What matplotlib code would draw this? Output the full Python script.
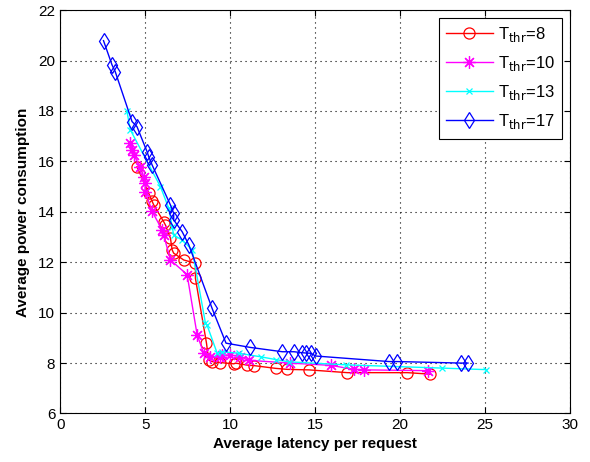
import matplotlib
matplotlib.use("Agg")
import matplotlib.pyplot as plt

plt.rcParams['font.family'] = ['Liberation Sans', 'DejaVu Sans']

# T_thr = 8
lat_8 = [4.52, 5.21, 5.41, 5.50, 6.09, 6.19, 6.49, 6.59, 6.68, 7.27, 7.96, 7.96,
         8.61, 8.74, 8.94, 9.43, 10.22, 10.32, 11.0, 11.4, 12.68, 13.37, 14.64,
         16.9, 20.44, 21.78]
pow_8 = [15.79, 14.74, 14.42, 14.28, 13.61, 13.48, 12.95, 12.49, 12.36, 12.09, 11.96, 11.36,
         8.79, 8.12, 8.06, 8.02, 7.97, 8.0, 7.92, 7.90, 7.79, 7.75, 7.73,
         7.62, 7.62, 7.56]

# T_thr = 10
lat_10 = [4.13, 4.23, 4.32, 4.72, 4.91, 5.01, 5.01, 5.41, 6.0, 6.09, 6.49, 7.47,
          8.06, 8.45, 8.84, 9.43, 9.53, 10.02, 10.61, 11.1, 13.5, 15.92, 17.29,
          17.88, 21.62]
pow_10 = [16.72, 16.46, 16.26, 15.79, 15.40, 15.13, 14.80, 14.02, 13.28, 13.08, 12.09, 11.51,
          9.12, 8.39, 8.25, 8.25, 8.31, 8.32, 8.25, 8.11, 8.0, 7.91, 7.75,
          7.73, 7.70]

# T_thr = 13
lat_13 = [3.93, 4.13, 5.90, 6.39, 6.59, 6.68, 7.18, 7.77, 8.55, 8.64, 9.24, 9.5,
          10.51, 11.79, 12.68, 13.46, 16.8, 22.5, 25.06]
pow_13 = [17.98, 17.25, 15.0, 14.14, 13.41, 13.08, 12.88, 12.49, 9.58, 9.51, 8.39, 8.45,
          8.39, 8.25, 8.14, 8.05, 7.93, 7.80, 7.74]

# T_thr = 17
lat_17 = [2.55, 3.05, 3.24, 4.23, 4.52, 5.11, 5.21, 5.41, 6.49, 6.68, 6.68, 7.18,
          7.57, 8.94, 9.76, 11.2, 13.07, 13.76, 14.25, 14.45, 14.74, 15.04,
          19.36, 19.85, 23.59, 24.0]
pow_17 = [20.79, 19.83, 19.56, 17.58, 17.38, 16.39, 16.19, 15.86, 14.27, 13.94, 13.68, 13.21,
          12.69, 10.17, 8.79, 8.62, 8.45, 8.45, 8.41, 8.40, 8.39, 8.28,
          8.06, 8.06, 8.0, 8.0]

fig = plt.figure(figsize=(5.9, 4.62), dpi=100)
ax = fig.add_axes([0.102, 0.105, 0.864, 0.873])

# asterisk marker like matlab '*'
star = (8, 2, 0)

ax.plot(lat_8, pow_8, '-o', color='red', mfc='none', ms=8, lw=1, mew=0.9,
        label=r'T$_{\rm thr}$=8')
ax.plot(lat_10, pow_10, '-', marker=star, color='magenta', ms=9, lw=1, mew=0.9,
        label=r'T$_{\rm thr}$=10')
ax.plot(lat_13, pow_13, '-x', color='cyan', ms=5, lw=1, mew=0.9,
        label=r'T$_{\rm thr}$=13')
ax.plot(lat_17, pow_17, '-d', color='blue', mfc='none', ms=8.5, lw=1, mew=0.9,
        label=r'T$_{\rm thr}$=17')

ax.set_xlim(0, 30)
ax.set_ylim(6, 22)
ax.set_xticks(range(0, 31, 5))
ax.set_yticks(range(6, 23, 2))
ax.grid(True, color='black', linestyle=(0, (1, 3.5)), linewidth=0.8)
ax.tick_params(direction='in', top=True, right=True, labelsize=11, length=4)
for s in ax.spines.values():
    s.set_linewidth(0.8)

ax.set_xlabel('Average latency per request', fontsize=11, fontweight='bold', labelpad=3)
ax.set_ylabel('Average power consumption', fontsize=11, fontweight='bold', labelpad=6)

leg = ax.legend(loc='upper right', fontsize=12, fancybox=False, framealpha=1,
                edgecolor='black', handlelength=2.8, handletextpad=0.3, borderpad=0.45,
                labelspacing=0.6, borderaxespad=0.45)
leg.get_frame().set_linewidth(0.8)

fig.savefig('out.png', dpi=100)
